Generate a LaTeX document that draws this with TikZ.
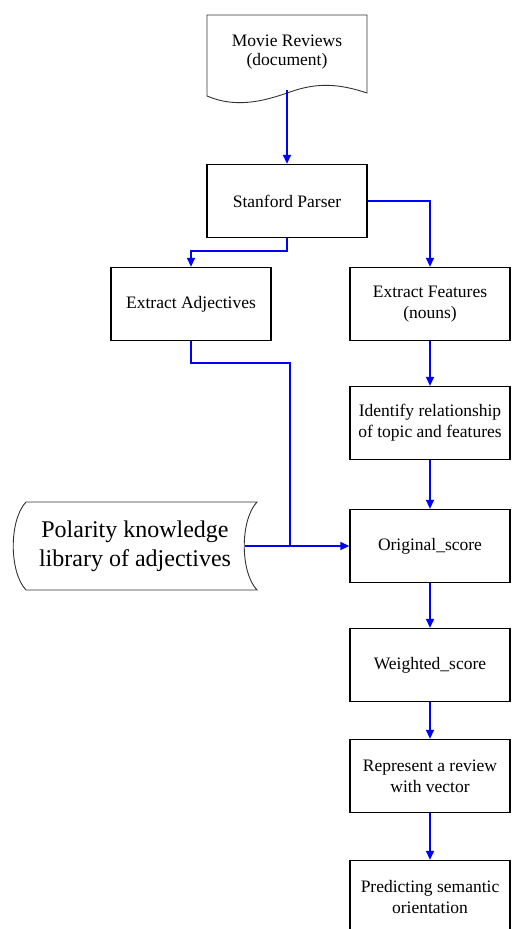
\documentclass[tikz,border=0pt]{standalone}
\usepackage{fontspec}
\setmainfont{Liberation Serif}
\usetikzlibrary{arrows.meta}
\begin{document}
\begin{tikzpicture}[x=1pt,y=-1pt,
  stepbox/.style={draw=black,line width=1.3pt,minimum width=160pt,minimum height=73pt,
    align=center,inner sep=0pt,font=\fontsize{17.5}{21}\selectfont,fill=white},
  flow/.style={draw=blue,line width=1.4pt,-{Triangle[length=9pt,width=8pt]}},
  link/.style={draw=blue,line width=1.4pt},
  outline/.style={draw=black!80,line width=0.9pt,fill=white}]
\useasboundingbox (0,0) rectangle (512,929);
\clip (0,0) rectangle (512,929);
% document shape
\draw[outline] (207,96) -- (207,15) -- (367,15) -- (367,93)
  .. controls (340,84) and (318,82) .. (290,92)
  .. controls (262,102) and (235,108) .. (207,96) -- cycle;
\node[align=center,minimum width=160pt,minimum height=75pt,inner sep=0pt,
  font=\fontsize{17.5}{19}\selectfont] (doc) at (287,52.5) {Movie Reviews\\(document)};
% stored-data shape for the polarity library
\draw[outline] (26,502) -- (257,502)
  .. controls (240,520) and (240,572) .. (257,590) -- (26,590)
  .. controls (9,572) and (9,520) .. (26,502) -- cycle;
\node[align=center,minimum width=220pt,minimum height=88pt,inner sep=0pt,
  font=\fontsize{24}{29}\selectfont] (pol) at (135,546) {Polarity knowledge\\library of adjectives};
% process boxes
\node[stepbox] (parser) at (287,201) {Stanford Parser};
\node[stepbox] (adj) at (191,304) {Extract Adjectives};
\node[stepbox] (feat) at (430,304) {Extract Features\\(nouns)};
\node[stepbox] (rel) at (430,423) {Identify relationship\\of topic and features};
\node[stepbox] (orig) at (430,546) {Original\_score};
\node[stepbox] (wscore) at (430,665) {Weighted\_score};
\node[stepbox] (vec) at (430,776) {Represent a review\\with vector};
\node[stepbox] (pred) at (430,897) {Predicting semantic\\orientation};
% connectors
\coordinate (j) at (290,546);
\draw[flow] (doc.south) -- (parser.north);
\draw[flow] (parser.south) -- ++(0,13) -| (adj.north);
\draw[flow] (parser.east) -| (feat.north);
\draw[flow] (feat.south) -- (rel.north);
\draw[flow] (rel.south) -- (orig.north);
\draw[link] (adj.south) -- ++(0,22) -| (j);
\draw[flow] (pol.east) -- (j) -- (orig.west);
\draw[flow] (orig.south) -- (wscore.north);
\draw[flow] (wscore.south) -- (vec.north);
\draw[flow] (vec.south) -- (pred.north);
\end{tikzpicture}
\end{document}
